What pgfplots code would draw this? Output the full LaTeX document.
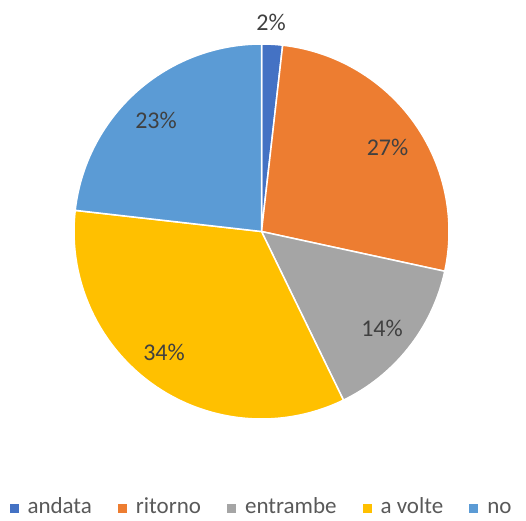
\documentclass[border=0pt]{standalone}
\usepackage{pgfplots}
\pgfplotsset{compat=1.18}
\usepackage{fontspec}
\setmainfont{Carlito}
\definecolor{cA}{HTML}{4472C4}
\definecolor{cB}{HTML}{ED7D31}
\definecolor{cC}{HTML}{A5A5A5}
\definecolor{cD}{HTML}{FFC000}
\definecolor{cE}{HTML}{5B9BD5}
\definecolor{lbl}{HTML}{404040}
\definecolor{leg}{HTML}{595959}

% shares in percent
\def\vA{1.8}  % andata
\def\vB{26.6} % ritorno
\def\vC{14.4} % entrambe
\def\vD{34.0} % a volte
\def\vE{23.2} % no

\pgfmathsetmacro{\aA}{0}
\pgfmathsetmacro{\aB}{\aA+3.6*\vA}
\pgfmathsetmacro{\aC}{\aB+3.6*\vB}
\pgfmathsetmacro{\aD}{\aC+3.6*\vC}
\pgfmathsetmacro{\aE}{\aD+3.6*\vD}
\pgfmathsetmacro{\aF}{\aE+3.6*\vE}

\newcommand{\slice}[3]{%
  \addplot[fill=#1, draw=white, line width=1.5pt, line join=round, forget plot,
    domain=#2:#3, samples=60, variable=\t]
    ({261.5+187.5*sin(\t)},{231.5-187.5*cos(\t)}) -- (axis cs:261.5,231.5) -- cycle;}

\begin{document}
\begin{tikzpicture}
\begin{axis}[
  x=1pt, y=1pt, scale only axis,
  xmin=0, xmax=526, ymin=0, ymax=514, y dir=reverse,
  hide axis, clip=false,
  legend columns=5,
  legend style={draw=none, fill=none, at={(axis cs:261.5,511)}, anchor=center,
    font=\fontsize{23}{27}\selectfont, text=leg,
    nodes={text height=0.72em, text depth=0.22em},
    /tikz/every even column/.append style={column sep=24pt},
    /tikz/every odd column/.append style={column sep=7pt}},
  legend image code/.code={\fill[#1] (0pt,-1.5pt) rectangle (9pt,7.5pt);},
]
\path (axis cs:0,0) rectangle (axis cs:526,514);
\slice{cA}{\aA}{\aB}
\slice{cB}{\aB}{\aC}
\slice{cC}{\aC}{\aD}
\slice{cD}{\aD}{\aE}
\slice{cE}{\aE}{\aF}

\begin{scope}[every node/.style={font=\fontsize{24}{28}\selectfont, text=lbl}]
\node at (axis cs:271,22) {2\%};
\node at (axis cs:387.5,147.5) {27\%};
\node at (axis cs:382,328) {14\%};
\node at (axis cs:164,352) {34\%};
\node at (axis cs:156,120) {23\%};
\end{scope}

\addlegendimage{fill=cA, draw=none}\addlegendentry{andata}
\addlegendimage{fill=cB, draw=none}\addlegendentry{ritorno}
\addlegendimage{fill=cC, draw=none}\addlegendentry{entrambe}
\addlegendimage{fill=cD, draw=none}\addlegendentry{a volte}
\addlegendimage{fill=cE, draw=none}\addlegendentry{no}
\end{axis}
\end{tikzpicture}
\end{document}
